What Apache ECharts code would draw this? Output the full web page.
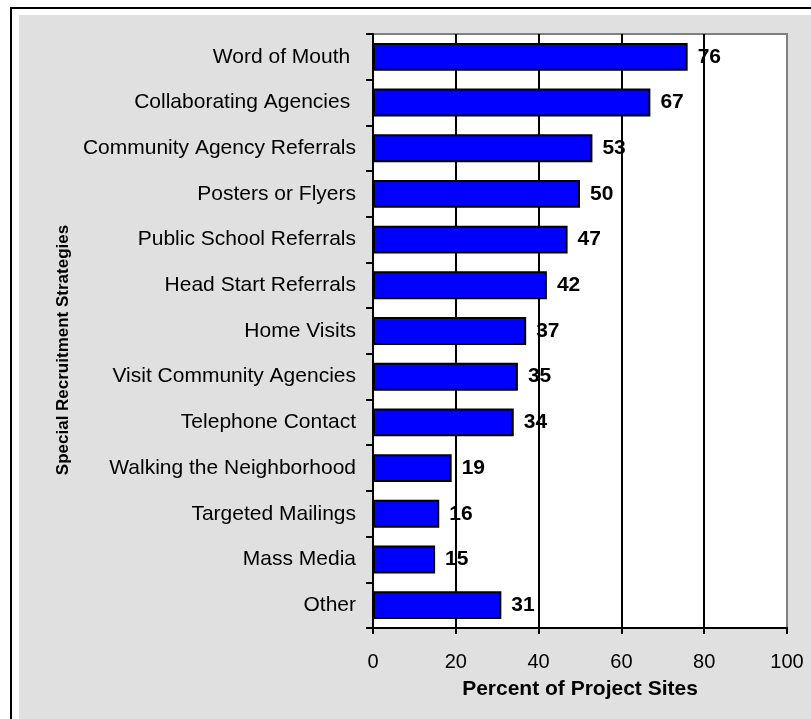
<!DOCTYPE html>
<html>
<head>
<meta charset="utf-8">
<script src="https://cdn.jsdelivr.net/npm/echarts@6/dist/echarts.min.js"></script>
<style>
html,body{margin:0;padding:0;background:#fff;}
#chart{width:811px;height:719px;}
</style>
</head>
<body>
<div id="chart"></div>
<script>
const categories = [
  "Word of Mouth ",
  "Collaborating Agencies ",
  "Community Agency Referrals",
  "Posters or Flyers",
  "Public School Referrals",
  "Head Start Referrals",
  "Home Visits",
  "Visit Community Agencies",
  "Telephone Contact",
  "Walking the Neighborhood",
  "Targeted Mailings",
  "Mass Media",
  "Other"
];
const percentValues = [76, 67, 53, 50, 47, 42, 37, 35, 34, 19, 16, 15, 31];
const xTicks = { min: 0, max: 100, interval: 20 };
const xAxisTitle = "Percent of Project Sites";
const yAxisTitle = "Special Recruitment Strategies";

const FONT = "Arial, 'Liberation Sans', sans-serif";
const chart = echarts.init(document.getElementById('chart'), null, { renderer: 'canvas' });
chart.setOption({
  animation: false,
  backgroundColor: 'transparent',
  graphic: [
    { type: 'rect', z: -20, silent: true, shape: { x: 11, y: 8, width: 830, height: 730 },
      style: { fill: '#ffffff', stroke: '#000000', lineWidth: 2 } },
    { type: 'rect', z: -19, silent: true, shape: { x: 19, y: 15, width: 820, height: 720 },
      style: { fill: '#e0e0e0' } }
  ],
  grid: {
    left: 373, right: 24, top: 34, bottom: 91,
    show: true, backgroundColor: '#ffffff', borderColor: '#808080', borderWidth: 2
  },
  xAxis: {
    type: 'value', min: xTicks.min, max: xTicks.max, interval: xTicks.interval,
    name: xAxisTitle, nameLocation: 'middle', nameGap: 51,
    nameTextStyle: { fontFamily: FONT, fontSize: 21, fontWeight: 'bold', color: '#000' },
    axisLine: { show: true, lineStyle: { color: '#000', width: 2 } },
    axisTick: { show: true, length: 6, lineStyle: { color: '#000', width: 2 } },
    axisLabel: { fontFamily: FONT, fontSize: 20, color: '#000', margin: 24 },
    splitLine: { show: true, showMinLine: false, showMaxLine: false, lineStyle: { color: '#000', width: 2 } }
  },
  yAxis: {
    type: 'category', data: categories, inverse: true,
    name: yAxisTitle, nameLocation: 'middle', nameGap: 298, nameRotate: 90,
    nameTextStyle: { fontFamily: FONT, fontSize: 17, fontWeight: 'bold', color: '#000', padding: [0, 38, 0, 0] },
    axisLine: { show: true, lineStyle: { color: '#000', width: 2 } },
    axisTick: { show: true, length: 7, lineStyle: { color: '#000', width: 2 } },
    axisLabel: { fontFamily: FONT, fontSize: 21, color: '#000', margin: 17, interval: 0 },
    splitLine: { show: false }
  },
  series: [{
    type: 'bar', data: percentValues, barCategoryGap: '39%',
    itemStyle: { color: '#0000ff', borderColor: '#000', borderWidth: 2 },
    label: { show: true, position: 'right', distance: 10, fontFamily: FONT, fontSize: 21, fontWeight: 'bold', color: '#000' }
  }]
});
</script>
</body>
</html>
